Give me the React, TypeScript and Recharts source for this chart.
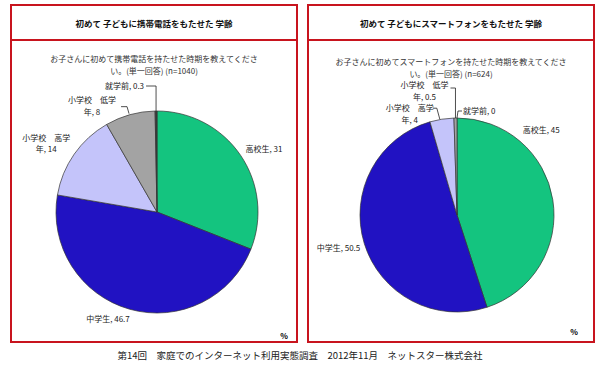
import React from 'react';
import { PieChart, Pie, Cell } from 'recharts';

const categories = ['高校生', '中学生', '小学校　高学年', '小学校　低学年', '就学前'];
const categoryLines = [['高校生'], ['中学生'], ['小学校　高学', '年'], ['小学校　低学', '年'], ['就学前']];
const phoneValues = [31, 46.7, 14, 8, 0.3];
const smartphoneValues = [45, 50.5, 4, 0.5, 0];
const colors = ['#14C47F', '#2112C2', '#C4C4FA', '#A3A3A3', '#3a3a3a'];

const phoneData = categories.map((name, i) => ({ name, value: phoneValues[i] }));
const smartData = categories.map((name, i) => ({ name, value: smartphoneValues[i] }));

type LabelCfg = { dx: number; dy: number; anchor: 'start' | 'middle' | 'end'; gap?: number; leader?: number[][] };

const phoneLabelCfg: LabelCfg[] = [
  { dx: 5, dy: -6, anchor: 'start' },
  { dx: 0, dy: 10, anchor: 'end' },
  { dx: -28, dy: -16, anchor: 'middle', gap: 11 },
  { dx: -38, dy: -15, anchor: 'middle', gap: 12, leader: [[-1, -1], [-3, -8], [-9, -8]] },
  { dx: -12, dy: -25, anchor: 'end', leader: [[0, 0], [0, -25], [-10, -25]] },
];
const smartLabelCfg: LabelCfg[] = [
  { dx: -30, dy: -70, anchor: 'start' },
  { dx: -4, dy: 4, anchor: 'end' },
  { dx: -32, dy: -11, anchor: 'middle', gap: 12, leader: [[-2, 0], [-5, -11], [-9, -11]] },
  { dx: -31, dy: -33, anchor: 'middle', gap: 12, leader: [[0, 0], [0, -30], [-5, -30]] },
  { dx: 6, dy: -7, anchor: 'start', leader: [[0, 0], [1, -7], [5, -7]] },
];

const FONT = '"Noto Sans CJK JP", "Noto Sans", sans-serif';
const RAD = Math.PI / 180;

const makeLabel = (cfg: LabelCfg[]) => (props: any) => {
  const { cx, cy, midAngle, outerRadius, index, value } = props;
  const c = cfg[index];
  const ex = cx + outerRadius * Math.cos(-midAngle * RAD);
  const ey = cy + outerRadius * Math.sin(-midAngle * RAD);
  const lines = categoryLines[index].slice();
  lines[lines.length - 1] = `${lines[lines.length - 1]}, ${value}`;
  const gap = c.gap ?? 12;
  return (
    <g key={`lbl-${index}`}>
      {c.leader && (
        <polyline
          points={c.leader.map((p) => `${ex + p[0]},${ey + p[1]}`).join(' ')}
          fill="none"
          stroke="#222"
          strokeWidth={0.8}
        />
      )}
      <text
        x={ex + c.dx}
        y={ey + c.dy}
        textAnchor={c.anchor}
        fontFamily={FONT}
        fontSize={8}
        fill="#222"
      >
        {lines.map((l, i) => (
          <tspan key={i} x={ex + c.dx} dy={i === 0 ? 3 : gap}>
            {l}
          </tspan>
        ))}
      </text>
    </g>
  );
};

const boxStyle = (left: number): React.CSSProperties => ({
  position: 'absolute',
  left,
  top: 4,
  width: 284,
  height: 335,
  border: '2px solid #C8141E',
  boxSizing: 'content-box',
});

const titleStyle: React.CSSProperties = {
  position: 'absolute',
  left: 0,
  top: 0,
  width: '100%',
  height: 33,
  borderBottom: '2px solid #C8141E',
  display: 'flex',
  alignItems: 'center',
  justifyContent: 'center',
  fontFamily: FONT,
  fontWeight: 'bold',
  fontSize: 8.5,
  color: '#111',
};

const subStyle = (top: number): React.CSSProperties => ({
  position: 'absolute',
  left: 0,
  top,
  width: '100%',
  textAlign: 'center',
  fontFamily: FONT,
  fontSize: 8,
  lineHeight: '12px',
  color: '#333',
});

export default function App() {
  return (
    <div style={{ position: 'absolute', left: 0, top: 0, width: 600, height: 365, background: '#fff', overflow: 'hidden' }}>
      <div style={boxStyle(10)}>
        <div style={titleStyle}>初めて 子どもに携帯電話をもたせた 学齢</div>
        <div style={subStyle(47)}>
          お子さんに初めて携帯電話を持たせた時期を教えてくださ
          <br />
          い。(単一回答) (n=1040)
        </div>
        <div style={{ position: 'absolute', right: 8, bottom: 0, fontFamily: FONT, fontSize: 8, fontWeight: 'bold' }}>%</div>
      </div>
      <div style={boxStyle(307)}>
        <div style={titleStyle}>初めて 子どもにスマートフォンをもたせた 学齢</div>
        <div style={subStyle(50)}>
          お子さんに初めてスマートフォンを持たせた時期を教えてくださ
          <br />
          い。(単一回答) (n=624)
        </div>
        <div style={{ position: 'absolute', right: 15, bottom: 4, fontFamily: FONT, fontSize: 8, fontWeight: 'bold' }}>%</div>
      </div>
      <div style={{ position: 'absolute', left: 0, top: 0 }}>
        <PieChart width={600} height={365} margin={{ top: 0, right: 0, bottom: 0, left: 0 }}>
          <Pie
            data={phoneData}
            dataKey="value"
            nameKey="name"
            cx={157}
            cy={212}
            outerRadius={101}
            startAngle={90}
            endAngle={-270}
            stroke="#333"
            strokeWidth={0.7}
            label={makeLabel(phoneLabelCfg)}
            labelLine={false}
            isAnimationActive={false}
          >
            {phoneData.map((d, i) => (
              <Cell key={d.name} fill={colors[i]} />
            ))}
          </Pie>
          <Pie
            data={smartData}
            dataKey="value"
            nameKey="name"
            cx={457}
            cy={215}
            outerRadius={97}
            startAngle={90}
            endAngle={-270}
            stroke="#333"
            strokeWidth={0.7}
            label={makeLabel(smartLabelCfg)}
            labelLine={false}
            isAnimationActive={false}
          >
            {smartData.map((d, i) => (
              <Cell key={d.name} fill={colors[i]} />
            ))}
          </Pie>
        </PieChart>
      </div>
      <div
        style={{
          position: 'absolute',
          left: 0,
          top: 348,
          width: 600,
          textAlign: 'center',
          fontFamily: FONT,
          fontSize: 9.5,
          color: '#222',
        }}
      >
        第14回　家庭でのインターネット利用実態調査　2012年11月　ネットスター株式会社
      </div>
    </div>
  );
}
